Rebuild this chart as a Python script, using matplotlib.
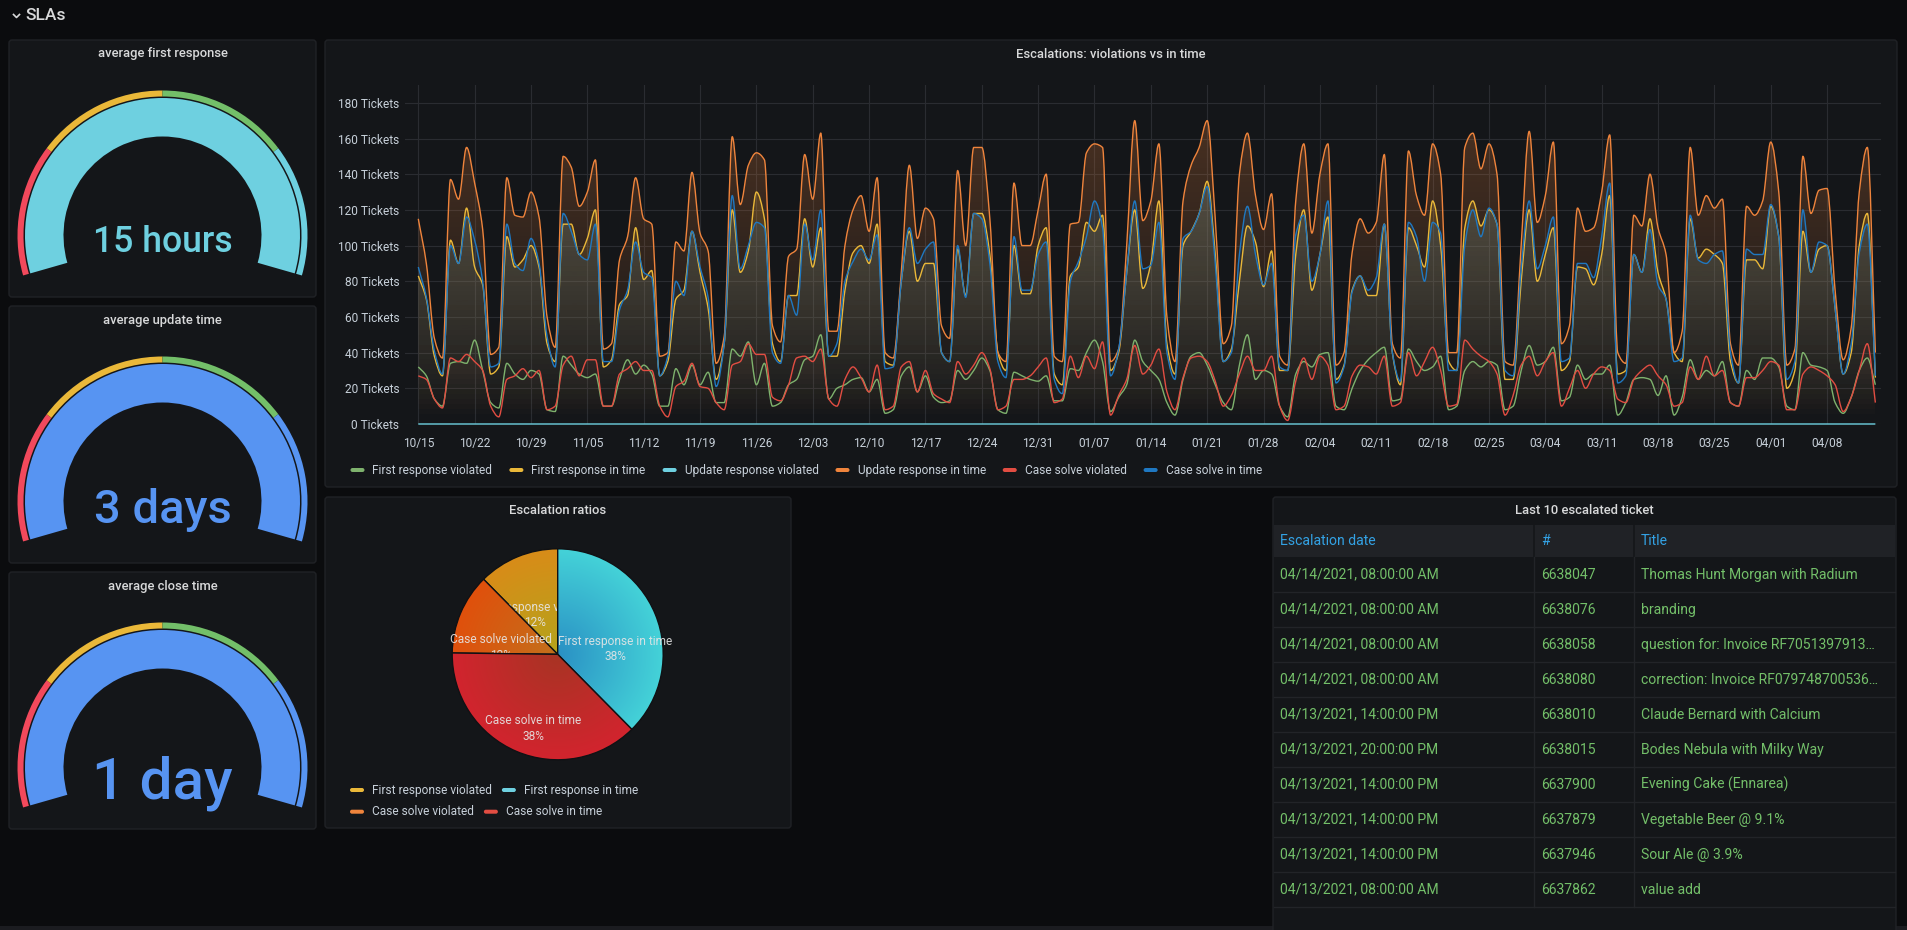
import numpy as np
import pandas as pd
import matplotlib
matplotlib.use("Agg")
import matplotlib.pyplot as plt
import matplotlib.dates as mdates
from matplotlib.patches import Wedge, FancyBboxPatch, Rectangle, PathPatch
from matplotlib.path import Path
from matplotlib.colors import to_rgb
from matplotlib.ticker import FuncFormatter

plt.rcParams['font.family'] = ['Roboto', 'DejaVu Sans']

W, H = 1907, 930
BG = '#0b0c0e'
PANEL = '#141619'
BORDER = '#202226'
TEXT = '#d8d9da'
AXTEXT = '#c7d0d9'
GRID = '#2a2c31'

# ---- gauges ----
gauge_titles = ["average first response", "average update time", "average close time"]
gauge_texts = ["15 hours", "3 days", "1 day"]
gauge_values = [15, 3, 1]
gauge_max = [15, 3, 1]
gauge_colors = ['#6ED0E0', '#5794F2', '#5794F2']
threshold_steps = [0.0, 0.25, 0.5, 0.75]
threshold_colors = ['#F2495C', '#EAB839', '#73BF69', None]  # last one = value colour

# ---- time series (daily, from 10/15/2020) ----
days = pd.date_range('2020-10-15', periods=182, freq='D')

first_resp_violated = [
    32, 27, 14, 10, 34, 35, 34, 47, 30, 12,
    9, 34, 28, 25, 30, 28, 8, 7, 38, 33,
    28, 26, 28, 10, 10, 25, 36, 28, 33, 28,
    10, 10, 31, 22, 33, 22, 29, 12, 12, 42,
    38, 46, 22, 34, 10, 12, 22, 25, 36, 38,
    50, 14, 20, 22, 25, 26, 18, 25, 6, 8,
    27, 32, 18, 27, 15, 12, 13, 30, 25, 30,
    37, 30, 8, 6, 29, 27, 25, 24, 27, 13,
    13, 31, 30, 40, 47, 35, 7, 15, 22, 47,
    35, 30, 25, 12, 5, 25, 38, 40, 33, 22,
    12, 8, 33, 50, 25, 30, 28, 10, 4, 28,
    35, 32, 39, 40, 10, 8, 20, 30, 36, 40,
    43, 13, 14, 42, 35, 30, 32, 38, 8, 10,
    30, 35, 32, 35, 33, 8, 10, 30, 44, 33,
    35, 43, 13, 15, 33, 25, 28, 28, 33, 5,
    12, 25, 26, 25, 16, 27, 5, 15, 36, 25,
    30, 27, 35, 12, 10, 30, 25, 37, 37, 32,
    10, 8, 40, 33, 32, 30, 12, 6, 15, 30,
    37, 22]

first_resp_in_time = [
    83, 70, 38, 27, 103, 90, 121, 88, 78, 28,
    32, 105, 88, 92, 100, 88, 45, 35, 112, 112,
    95, 104, 120, 32, 36, 67, 72, 110, 81, 86,
    27, 35, 70, 75, 108, 85, 65, 25, 45, 120,
    85, 97, 130, 115, 45, 35, 72, 72, 115, 88,
    110, 38, 38, 75, 96, 100, 90, 112, 35, 33,
    80, 108, 80, 90, 90, 40, 35, 98, 72, 118,
    118, 95, 40, 30, 100, 73, 73, 100, 110, 28,
    22, 83, 88, 113, 108, 117, 30, 40, 85, 120,
    76, 90, 125, 45, 28, 100, 108, 118, 136, 95,
    35, 42, 80, 111, 102, 77, 97, 30, 30, 95,
    120, 75, 95, 116, 25, 33, 75, 83, 72, 72,
    112, 40, 22, 110, 100, 88, 125, 100, 35, 30,
    110, 125, 111, 120, 112, 25, 25, 80, 120, 80,
    95, 110, 30, 35, 88, 87, 78, 95, 128, 28,
    30, 95, 85, 115, 85, 70, 40, 35, 115, 93,
    98, 95, 90, 35, 23, 92, 92, 87, 122, 105,
    20, 30, 108, 85, 98, 100, 65, 28, 40, 100,
    118, 26]

update_resp_violated = [0] * 182

update_resp_in_time = [
    115, 90, 48, 37, 137, 126, 155, 135, 109, 39,
    43, 138, 117, 116, 130, 116, 60, 43, 150, 144,
    122, 130, 148, 42, 45, 92, 105, 138, 115, 112,
    38, 40, 102, 97, 141, 107, 97, 34, 49, 161,
    123, 145, 152, 148, 55, 46, 94, 98, 151, 126,
    163, 52, 52, 100, 120, 128, 108, 138, 40, 37,
    85, 145, 104, 121, 115, 55, 48, 142, 100, 155,
    155, 115, 40, 35, 135, 100, 100, 120, 140, 38,
    35, 112, 113, 152, 157, 155, 35, 42, 100, 170,
    114, 125, 157, 60, 35, 125, 145, 155, 170, 115,
    45, 55, 140, 163, 128, 109, 129, 38, 33, 125,
    157, 107, 140, 157, 33, 40, 96, 115, 107, 113,
    151, 45, 37, 153, 128, 117, 157, 140, 40, 40,
    155, 163, 143, 157, 140, 35, 33, 100, 164, 113,
    128, 158, 45, 55, 121, 108, 110, 130, 162, 40,
    34, 117, 111, 140, 110, 95, 40, 52, 155, 117,
    128, 121, 126, 45, 33, 122, 117, 125, 158, 130,
    33, 42, 150, 118, 131, 132, 75, 36, 54, 130,
    155, 40]

case_solve_violated = [
    27, 25, 14, 9, 37, 35, 39, 35, 30, 10,
    4, 25, 27, 31, 26, 30, 8, 10, 33, 38,
    27, 36, 36, 10, 10, 28, 31, 35, 30, 30,
    10, 4, 21, 24, 34, 21, 20, 12, 8, 33,
    35, 45, 39, 39, 15, 13, 22, 37, 38, 35,
    42, 14, 10, 25, 32, 26, 18, 33, 8, 10,
    32, 35, 18, 30, 17, 14, 12, 35, 28, 33,
    40, 31, 8, 10, 25, 25, 27, 32, 37, 12,
    14, 38, 26, 38, 31, 46, 5, 16, 25, 44,
    28, 33, 42, 18, 8, 26, 37, 38, 35, 24,
    10, 16, 28, 38, 30, 30, 38, 10, 2, 24,
    37, 25, 38, 33, 8, 10, 27, 33, 32, 28,
    38, 10, 12, 40, 27, 35, 43, 30, 10, 11,
    47, 42, 38, 35, 28, 5, 16, 33, 38, 27,
    35, 40, 10, 20, 30, 20, 28, 32, 30, 14,
    12, 25, 30, 33, 27, 22, 10, 12, 32, 25,
    38, 27, 30, 12, 10, 26, 26, 30, 35, 33,
    8, 8, 28, 32, 30, 27, 22, 7, 15, 30,
    45, 12]

case_solve_in_time = [
    88, 71, 41, 28, 100, 90, 116, 103, 80, 32,
    34, 112, 90, 86, 104, 90, 49, 32, 118, 108,
    95, 92, 112, 35, 35, 64, 75, 102, 85, 82,
    27, 38, 80, 72, 108, 88, 71, 21, 45, 128,
    87, 100, 113, 110, 40, 34, 72, 61, 112, 92,
    120, 38, 45, 80, 91, 98, 92, 106, 31, 32,
    80, 110, 90, 98, 102, 40, 35, 100, 71, 118,
    115, 90, 35, 26, 105, 75, 75, 95, 102, 25,
    17, 80, 91, 105, 125, 110, 27, 42, 85, 125,
    87, 89, 113, 40, 25, 104, 108, 118, 133, 90,
    35, 40, 95, 122, 95, 78, 90, 32, 30, 106,
    117, 80, 95, 125, 23, 32, 74, 83, 75, 82,
    112, 40, 24, 113, 105, 80, 113, 107, 30, 30,
    100, 120, 105, 121, 112, 30, 27, 87, 125, 87,
    100, 116, 35, 37, 90, 90, 82, 105, 135, 23,
    27, 95, 85, 109, 78, 70, 35, 37, 117, 92,
    90, 95, 97, 40, 23, 98, 95, 95, 123, 105,
    25, 35, 120, 85, 102, 100, 65, 28, 45, 96,
    112, 27]

series_names = ["First response violated", "First response in time", "Update response violated",
                "Update response in time", "Case solve violated", "Case solve in time"]
series_values = [first_resp_violated, first_resp_in_time, update_resp_violated,
                 update_resp_in_time, case_solve_violated, case_solve_in_time]
series_colors = ['#7EB26D', '#EAB839', '#6ED0E0', '#EF843C', '#E24D42', '#1F78C1']

# ---- pie ----
pie_labels = ["First response violated", "First response in time", "Case solve violated", "Case solve in time"]
pie_values = [12.4, 37.6, 12.4, 37.6]
pie_legend_colors = ['#EAB839', '#6ED0E0', '#EF843C', '#E24D42']
pie_edge_colors = ['#d88c18', '#44d2d8', '#e0500c', '#d2242e']
pie_center_colors = ['#b4a41c', '#2a90c4', '#c2701c', '#a83424']

# ---- table ----
table_columns = ["Escalation date", "#", "Title"]
esc_dates = ["04/14/2021, 08:00:00 AM", "04/14/2021, 08:00:00 AM", "04/14/2021, 08:00:00 AM",
             "04/14/2021, 08:00:00 AM", "04/13/2021, 14:00:00 PM", "04/13/2021, 20:00:00 PM",
             "04/13/2021, 14:00:00 PM", "04/13/2021, 14:00:00 PM", "04/13/2021, 14:00:00 PM",
             "04/13/2021, 08:00:00 AM"]
ticket_ids = ["6638047", "6638076", "6638058", "6638080", "6638010",
              "6638015", "6637900", "6637879", "6637946", "6637862"]
ticket_titles = ["Thomas Hunt Morgan with Radium", "branding", "question for: Invoice RF7051397913…",
                 "correction: Invoice RF079748700536…", "Claude Bernard with Calcium",
                 "Bodes Nebula with Milky Way", "Evening Cake (Ennarea)", "Vegetable Beer @ 9.1%",
                 "Sour Ale @ 3.9%", "value add"]


def box(x0, y0, x1, y1):
    return [x0 / W, 1 - y1 / H, (x1 - x0) / W, (y1 - y0) / H]


def smooth_path(x, y, close=False):
    # monotone cubic drawn as bezier segments
    x = np.asarray(x, float)
    y = np.asarray(y, float)
    h = np.diff(x)
    d = np.diff(y) / h
    m = np.zeros_like(y)
    m[0], m[-1] = d[0], d[-1]
    for i in range(1, len(y) - 1):
        if d[i - 1] * d[i] > 0:
            m[i] = 3 * (h[i - 1] + h[i]) / ((2 * h[i] + h[i - 1]) / d[i - 1] + (h[i] + 2 * h[i - 1]) / d[i])
    verts = [(x[0], y[0])]
    codes = [Path.MOVETO]
    for i in range(len(y) - 1):
        verts += [(x[i] + h[i] / 3, y[i] + m[i] * h[i] / 3),
                  (x[i + 1] - h[i] / 3, y[i + 1] - m[i + 1] * h[i] / 3),
                  (x[i + 1], y[i + 1])]
        codes += [Path.CURVE4] * 3
    if close:
        verts += [(x[-1], 0), (x[0], 0), (x[0], y[0])]
        codes += [Path.LINETO, Path.LINETO, Path.CLOSEPOLY]
    return Path(verts, codes)


fig = plt.figure(figsize=(W / 100, H / 100), dpi=100, facecolor=BG)
bg = fig.add_axes([0, 0, 1, 1], zorder=-10)
bg.set_xlim(0, W)
bg.set_ylim(H, 0)
bg.axis('off')
renderer = fig.canvas.get_renderer()


def panel(x0, y0, x1, y1, title=None, ty=None):
    bg.add_patch(FancyBboxPatch((x0, y0), x1 - x0, y1 - y0, boxstyle='round,pad=0,rounding_size=3',
                                fc=PANEL, ec=BORDER, lw=1))
    if title:
        bg.text((x0 + x1) / 2, ty, title, ha='center', va='center', fontsize=9.4,
                fontweight='medium', color=TEXT)


def flow_legend(items, x, y, spacing):
    for label, color in items:
        bg.add_patch(FancyBboxPatch((x, y - 2), 14, 4, boxstyle='round,pad=0,rounding_size=2',
                                    fc=color, ec='none'))
        t = bg.text(x + 22, y, label, ha='left', va='center', fontsize=8.6, color=AXTEXT)
        x += 22 + t.get_window_extent(renderer).width + spacing


# header
bg.plot([13.5, 16.5, 19.5], [14.5, 17.5, 14.5], color=TEXT, lw=1.2)
bg.text(25.5, 16, "SLAs", ha='left', va='center', fontsize=12.5, fontweight='medium', color=TEXT)
bg.add_patch(Rectangle((0, 926), W, 4, fc='#1b1c20', ec='none'))

# ---- gauges ----
gauge_tops = [40, 306, 572]
text_offsets = [212, 217, 226]
text_sizes = [25.6, 33.8, 42]
for i in range(3):
    top = gauge_tops[i]
    panel(9, top, 316, top + 257, gauge_titles[i], top + 14)
    cx, cy = 162.5, top + 195.5
    frac = min(1.0, gauge_values[i] / gauge_max[i])
    a0 = 196
    bg.add_patch(Wedge((cx, cy), 137.5, -a0, -(a0 - frac * 212), width=38.5,
                       fc=gauge_colors[i], ec='none'))
    steps = threshold_steps + [1.0]
    for k in range(4):
        c = threshold_colors[k] or gauge_colors[i]
        s, e = a0 - steps[k] * 212, a0 - steps[k + 1] * 212
        bg.add_patch(Wedge((cx, cy), 145, -s, -e, width=6, fc=c, ec='none'))
    bg.text(cx, top + text_offsets[i], gauge_texts[i], ha='center', va='baseline',
            fontsize=text_sizes[i], fontweight='medium', color=gauge_colors[i])

# ---- time series ----
panel(325, 40, 1897, 487, "Escalations: violations vs in time", 54)
ax = fig.add_axes(box(405, 85, 1881, 424))
ax.set_facecolor('none')
x = mdates.date2num(days)
xl, xr = x[0] - 1.65, x[-1] + 0.7
for vals, c in zip(series_values, series_colors):
    fill = PathPatch(smooth_path(x, vals, close=True), transform=ax.transData, fc='none', ec='none')
    grad = np.zeros((256, 1, 4))
    grad[..., :3] = to_rgb(c)
    grad[:, 0, 3] = np.linspace(0, 0.27, 256)
    im = ax.imshow(grad, extent=[xl, xr, 0, 190], origin='lower', aspect='auto',
                   interpolation='bilinear', zorder=1)
    im.set_clip_path(fill)
for vals, c in zip(series_values, series_colors):
    ax.add_patch(PathPatch(smooth_path(x, vals), fc='none', ec=c, lw=1.0, zorder=3, clip_on=False))

ax.set_xlim(xl, xr)
ax.set_ylim(0, 190)
ax.set_xticks(mdates.date2num(pd.date_range('2020-10-15', '2021-04-14', freq='7D')))
ax.xaxis.set_major_formatter(mdates.DateFormatter('%m/%d'))
ax.set_yticks(range(0, 181, 20))
ax.yaxis.set_major_formatter(FuncFormatter(lambda v, p: f"{int(v)} Tickets"))
ax.tick_params(length=0, colors=AXTEXT, labelsize=8.6)
ax.tick_params(axis='y', pad=4)
ax.tick_params(axis='x', pad=9)
ax.grid(True, color=GRID, lw=0.8)
ax.set_axisbelow(True)
for s in ax.spines.values():
    s.set_visible(False)

flow_legend(list(zip(series_names, series_colors)), 350.5, 470, 17)

# ---- pie ----
panel(325, 497, 791, 828, "Escalation ratios", 510)
R, pcx, pcy = 105.5, 557.7, 654.3
pax = fig.add_axes(box(pcx - R, pcy - R, pcx + R, pcy + R))
order = [1, 3, 2, 0]  # clockwise from 12 o'clock
wedges, _ = pax.pie([pie_values[i] for i in order], startangle=90, counterclock=False, radius=1,
                    colors=[pie_edge_colors[i] for i in order],
                    wedgeprops=dict(edgecolor='#101114', linewidth=1))
label_pos = {0: (120, 0.43), 1: (5, 0.55), 2: (173, 0.54), 3: (-108, 0.74)}
total = sum(pie_values)
gx, gy = np.meshgrid(np.linspace(-1, 1, 200), np.linspace(-1, 1, 200))
rr = np.clip(np.hypot(gx, gy), 0, 1)[..., None]
for w, k in zip(wedges, order):
    z = 1 + 2 * k
    img = np.array(to_rgb(pie_center_colors[k])) + (np.array(to_rgb(pie_edge_colors[k])) -
                                                    np.array(to_rgb(pie_center_colors[k]))) * rr
    im = pax.imshow(img, extent=(-1, 1, -1, 1), origin='lower', interpolation='bilinear', zorder=z)
    im.set_clip_path(w)
    w.set_facecolor('none')
    w.set_zorder(z + 0.2)
    ang, rf = label_pos[k]
    pax.text(rf * np.cos(np.radians(ang)), rf * np.sin(np.radians(ang)),
             f"{pie_labels[k]}\n{pie_values[k] / total * 100:.0f}%", ha='center', va='center',
             fontsize=8.6, color='#e6e6e6', alpha=0.9, zorder=z + 0.5, linespacing=1.25)
pax.set_xlim(-1, 1)
pax.set_ylim(-1, 1)
pax.axis('off')

flow_legend(list(zip(pie_labels[:2], pie_legend_colors[:2])), 350, 790, 10)
flow_legend(list(zip(pie_labels[2:], pie_legend_colors[2:])), 350, 811.7, 10)

# ---- table ----
tx0, tx1 = 1273, 1896
panel(tx0, 497, tx1, 940, "Last 10 escalated ticket", 510)
bg.add_patch(Rectangle((tx0 + 1, 525), tx1 - tx0 - 2, 32, fc='#202226', ec='none'))
col_x = [1280, 1541, 1641]
for cx_, name in zip(col_x, table_columns):
    bg.text(cx_, 541, name, ha='left', va='center', fontsize=10.1, color='#33A2E5')
row_h = 35
for i, row in enumerate(zip(esc_dates, ticket_ids, ticket_titles)):
    yc = 557 + row_h / 2 + row_h * i
    for cx_, val in zip(col_x, row):
        bg.text(cx_, yc, val, ha='left', va='center', fontsize=10.1, color='#73BF69')
    bg.plot([tx0 + 1, tx1 - 1], [557 + row_h * (i + 1)] * 2, color='#222428', lw=1)
for sx in [1534, 1634]:
    bg.plot([sx, sx], [525, 557], color=PANEL, lw=1.2)
    bg.plot([sx, sx], [557, 907], color='#222428', lw=1)

fig.savefig("out.png", dpi=100, facecolor=BG)
